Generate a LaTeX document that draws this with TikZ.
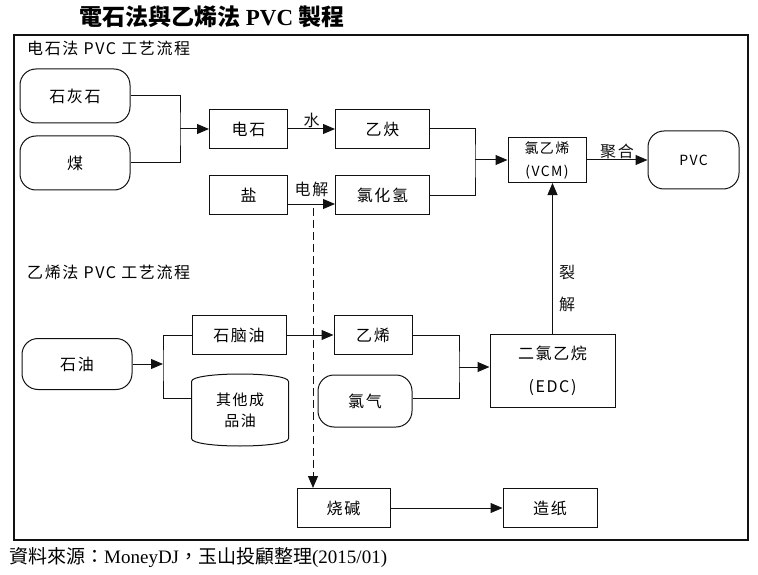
\documentclass[tikz,border=0pt]{standalone}
\usepackage{fontspec}
\usepackage{tikz}
\usetikzlibrary{positioning,arrows.meta}
\setmainfont{Liberation Serif}
\newfontfamily\cjk[LetterSpace=10]{Noto Sans CJK SC}
\newfontfamily\tccjk{Noto Sans CJK TC}
\definecolor{Black}{HTML}{111111}
\definecolor{White}{HTML}{FFFFFF}

\begin{document}
\begin{tikzpicture}[x=1pt, y=-1pt, node distance=47pt, auto]
  \tikzstyle{proc} = [rectangle, draw=Black, line width=1pt, fill=White, minimum width=78pt, minimum height=39pt, inner sep=2pt, text centered, font=\cjk\fontsize{16}{19}\selectfont]
  \tikzstyle{terminal} = [proc, rounded corners=16pt, minimum width=110pt, minimum height=54pt]
  \tikzstyle{drum} = [proc, draw=none, fill=none, minimum width=96pt, minimum height=70pt, align=center, font=\cjk\fontsize{15}{21}\selectfont]
  \tikzstyle{heading} = [anchor=west, inner sep=0pt, font=\cjk\fontsize{16}{18}\selectfont]
  \tikzstyle{tag} = [inner sep=1pt, font=\cjk\fontsize{16}{18}\selectfont]
  \tikzstyle{link} = [line width=1pt, Black]
  \tikzstyle{flow} = [link, -{Triangle[length=12pt, width=10pt]}]

  \useasboundingbox (0,0) rectangle (758,575);
  \draw[line width=1.8pt, Black] (14,35) rectangle (748,540);

  \node [font=\fontsize{23}{26}\selectfont\bfseries] (title) at (212,17) {{\tccjk 電石法與乙烯法} PVC {\tccjk 製程}};
  \node [anchor=west, inner sep=0pt, font=\fontsize{19}{21}\selectfont] (source) at (9,558) {{\tccjk 資料來源：}MoneyDJ{\tccjk ，玉山投顧整理}(2015/01)};

  \node [heading] (carbideflow) at (27,48) {电石法 PVC 工艺流程};
  \node [heading] (ethyleneflow) at (27,272) {乙烯法 PVC 工艺流程};

  \node [terminal] (limestone) at (75,96) {石灰石};
  \node [terminal, below=12pt of limestone] (coal) {煤};
  \node [proc] (carbide) at (248.5,129) {电石};
  \node [proc, minimum width=94pt, right=of carbide] (acetylene) {乙炔};
  \node [proc, below=26pt of carbide] (salt) {盐};
  \node [proc, minimum width=94pt, right=of salt] (hcl) {氯化氢};
  \node [proc, minimum height=45pt, align=center, font=\cjk\fontsize{14}{23}\selectfont] (vcm) at (547,160) {氯乙烯\\(VCM)};
  \node [terminal, minimum width=91pt, minimum height=58pt, right=61pt of vcm, font=\cjk\fontsize{14}{18}\selectfont] (pvc) {PVC};

  \node [terminal, minimum height=51pt] (oil) at (77,364) {石油};
  \node [proc, minimum width=94pt] (naphtha) at (239,335) {石脑油};
  \node [drum] (other) at (240,410) {其他成\\品油};
  \node [proc, right=of naphtha] (ethylene) {乙烯};
  \node [terminal, minimum width=94pt, minimum height=52pt] (chlorine) at (365,401) {氯气};
  \node [proc, minimum width=125pt, minimum height=73pt, align=center] (edc) at (552.5,370.5) {二氯乙烷\\[14pt](EDC)};
  \node [proc, minimum width=93pt] (caustic) at (343.5,508) {烧碱};
  \node [proc, minimum width=94pt, right=112pt of caustic] (paper) {造纸};

  \draw[link] ([yshift=-7pt]other.north west) .. controls ([yshift=3pt]other.north west) and ([yshift=3pt]other.north east) .. ([yshift=-7pt]other.north east) -- ([yshift=7pt]other.south east) .. controls ([yshift=-3pt]other.south east) and ([yshift=-3pt]other.south west) .. ([yshift=7pt]other.south west) -- cycle;

  \coordinate (j1) at (180,129);
  \draw[link] (limestone.east) -| (j1) |- (coal.east);
  \draw[flow] (j1) -- (carbide.west);
  \draw[flow] (carbide.east) -- node[tag, above] (water) {水} (acetylene.west);
  \draw[flow] ([yshift=-9pt]salt.east) -- node[tag, above=6pt] (electro) {电解} ([yshift=-9pt]hcl.west);
  \coordinate (j2) at (475,160);
  \draw[link] (acetylene.east) -| (j2) |- (hcl.east);
  \draw[flow] (j2) -- (vcm.west);
  \draw[flow] (vcm.east) -- node[tag, above] (poly) {聚合} (vcm.east -| pvc.west);

  \coordinate (j3) at (163,364);
  \draw[flow] (oil.east) -- (j3);
  \draw[link] (naphtha.west) -| (j3) |- ([yshift=12pt]other.west);
  \draw[flow] (naphtha.east) -- (naphtha.east -| ethylene.west);
  \coordinate (j4) at (459,367);
  \draw[link] (ethylene.east) -| (j4) |- ([yshift=3pt]chlorine.east);
  \draw[flow] (j4) -- (j4 -| edc.west);
  \draw[flow] (edc.north) -- node[tag, right=5pt, pos=0.3, align=center, font=\cjk\fontsize{16}{32}\selectfont] (crack) {裂\\解} (edc.north |- vcm.south);

  \coordinate (tap) at (313,208);
  \draw[flow, dash pattern=on 8pt off 4pt] (tap) -- (tap |- caustic.north);
  \draw[flow] (caustic.east) -- (paper.west);
\end{tikzpicture}
\end{document}
